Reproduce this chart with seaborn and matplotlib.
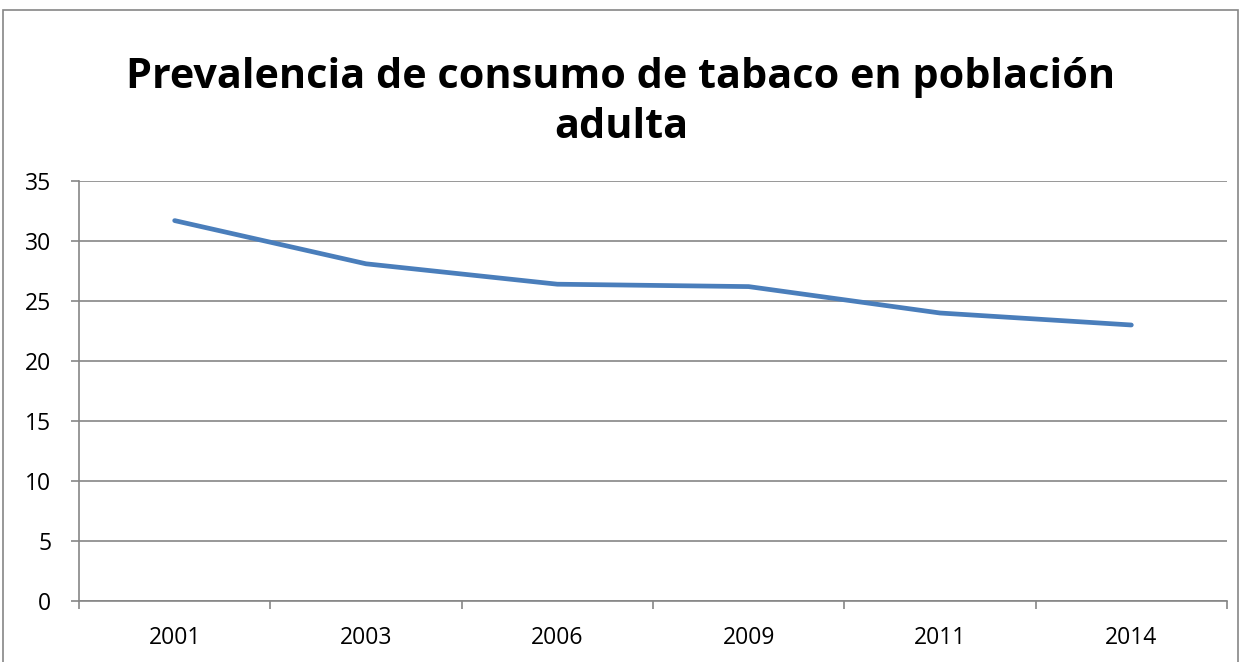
import matplotlib
matplotlib.use("Agg")
import matplotlib.pyplot as plt
import seaborn as sns
import pandas as pd
import numpy as np
from matplotlib.patches import Rectangle

years = ["2001", "2003", "2006", "2009", "2011", "2014"]
prevalencia = [31.7, 28.1, 26.4, 26.2, 24.0, 23.0]
y_ticks = [0, 5, 10, 15, 20, 25, 30, 35]

df = pd.DataFrame({"year": years, "value": prevalencia})

sns.set_style("white")
plt.rcParams["font.family"] = ["Open Sans", "DejaVu Sans"]
plt.rcParams["text.color"] = "black"

fig = plt.figure(figsize=(12.42, 6.62), dpi=100)
ax = fig.add_axes([79 / 1242, 61 / 662, (1227 - 79) / 1242, (601 - 181) / 662])

sns.lineplot(data=df, x="year", y="value", ax=ax, color="#4A7EBB",
             linewidth=3.4, solid_capstyle="round", sort=False)

ax.set_xlim(-0.5, len(years) - 0.5)
ax.set_ylim(0, 35)
ax.set_yticks(y_ticks)
ax.yaxis.grid(True, color="#868686", linewidth=1.2)
ax.set_axisbelow(True)
ax.set_xlabel("")
ax.set_ylabel("")

# tick marks sit between the categories
ax.set_xticks(np.arange(-0.5, len(years)), minor=True)
ax.tick_params(axis="x", which="major", bottom=True, length=0, pad=18, labelsize=16.5,
               labelcolor="black")
ax.tick_params(axis="x", which="minor", bottom=True, length=6, width=1.2, color="#868686",
               direction="out")
ax.tick_params(axis="y", left=True, length=6, width=1.2, color="#868686", direction="out",
               pad=14, labelsize=16.5, labelcolor="black")

for side in ["top", "right"]:
    ax.spines[side].set_visible(False)
for side in ["left", "bottom"]:
    ax.spines[side].set_color("#868686")
    ax.spines[side].set_linewidth(1.2)

fig.text(0.5, 1 - 77 / 662, "Prevalencia de consumo de tabaco en población", ha="center",
         va="center", fontsize=29.8, fontweight="bold", color="black")
fig.text(0.5, 1 - 127 / 662, "adulta", ha="center", va="center", fontsize=29.8,
         fontweight="bold", color="black")

fig.patches.append(Rectangle((3 / 1242, -0.01), 1235 / 1242, 1 - 10 / 662 + 0.01,
                             transform=fig.transFigure, fill=False, edgecolor="#868686",
                             linewidth=1.2))

fig.savefig("out.png", dpi=100)
